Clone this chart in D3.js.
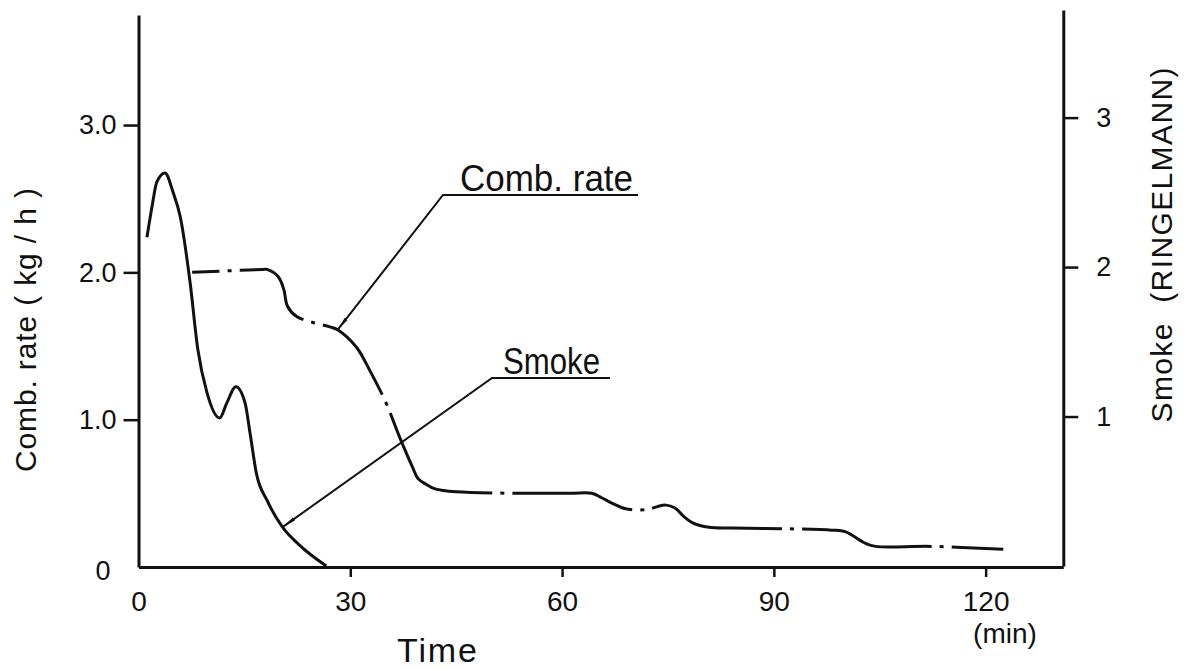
<!DOCTYPE html>
<html>
<head>
<meta charset="utf-8">
<script src="https://cdn.jsdelivr.net/npm/d3@7"></script>
<style>
  body { margin: 0; background: #fff; }
  text { font-family: "Liberation Sans", Arial, sans-serif; fill: #111; }
</style>
</head>
<body>
<svg id="chart" width="1192" height="670"></svg>
<script>
// values
var combTime = [7.6, 17.6, 18.2, 19.8, 20.6, 21.1, 22.4, 24.7, 27.1, 28.2, 30.9, 32.7, 35.1, 37.0, 38.8, 39.6, 40.8, 42.0, 45.0, 61.0, 64.2, 65.6, 67.2, 69.0, 72.0, 73.5, 74.7, 76.0, 77.3, 78.5, 80.8, 84.0, 91.1, 98.2, 100.1, 103.0, 104.4, 112.3, 122.5];
var combRate = [2.00, 2.02, 2.02, 1.97, 1.88, 1.77, 1.70, 1.66, 1.63, 1.61, 1.49, 1.34, 1.11, 0.88, 0.68, 0.60, 0.56, 0.53, 0.51, 0.50, 0.50, 0.47, 0.43, 0.395, 0.39, 0.41, 0.42, 0.40, 0.34, 0.30, 0.27, 0.265, 0.26, 0.25, 0.24, 0.16, 0.14, 0.14, 0.12];

var smokeTime = [1.2, 1.9, 2.6, 3.75, 4.9, 5.9, 7.3, 8.4, 9.7, 11.5, 12.5, 13.8, 15.1, 15.8, 16.7, 18.2, 20.4, 22.8, 26.6];
var smokeValue = [2.20, 2.40, 2.57, 2.63, 2.50, 2.34, 1.90, 1.45, 1.16, 0.99, 1.09, 1.20, 1.09, 0.89, 0.62, 0.44, 0.26, 0.14, 0];

var timeTicks = [0, 30, 60, 90, 120];
var combTicks = [0, 1, 2, 3];
var smokeTicks = [1, 2, 3];

// where the dash-dot line of comb. rate is broken (minutes)
var combGapTimes = [12.9, 24.7, 35.1, 51.5, 71.3, 92.5, 113.7];

var svg = d3.select('#chart');

var x = d3.scaleLinear().domain([0, 131]).range([138.5, 1063.3]);
var yL = d3.scaleLinear().domain([0, 3.747]).range([567, 15]);
var yR = d3.scaleLinear().domain([0, 3.72]).range([566, 10]);

var ink = '#111';

// axes
var gx = svg.append('g')
  .attr('transform', 'translate(0,567)')
  .call(d3.axisBottom(x).tickValues(timeTicks).tickSize(10).tickSizeOuter(0).tickPadding(14));
var gl = svg.append('g')
  .attr('transform', 'translate(138.5,0)')
  .call(d3.axisLeft(yL).tickValues(combTicks).tickSize(15).tickSizeOuter(0).tickPadding(7)
    .tickFormat(function (d) { return d === 0 ? '0' : d.toFixed(1); }));
var gr = svg.append('g')
  .attr('transform', 'translate(1063.3,0)')
  .call(d3.axisRight(yR).tickValues(smokeTicks).tickSize(15).tickSizeOuter(0).tickPadding(18)
    .tickFormat(d3.format('d')));

[gx, gl, gr].forEach(function (g) {
  g.select('.domain').attr('stroke', ink).attr('stroke-width', 3);
  g.selectAll('.tick line').attr('stroke', ink).attr('stroke-width', 2.5);
  g.selectAll('.tick text').attr('fill', ink).style('font-family', '"Liberation Sans", Arial, sans-serif');
  g.selectAll('.tick').filter(function (d) { return d === 0; }).select('line').remove();
});
gx.selectAll('.tick text').style('font-size', '28px');
gl.selectAll('.tick text').style('font-size', '27px');
gl.selectAll('.tick').filter(function (d) { return d === 0; }).select('text').attr('x', -28).attr('dy', '0.45em');
gr.selectAll('.tick text').style('font-size', '27px');

// axis titles
svg.append('text')
  .attr('transform', 'translate(36,330) rotate(-90)')
  .attr('text-anchor', 'middle')
  .attr('textLength', 284)
  .attr('lengthAdjust', 'spacing')
  .style('font-size', '30px')
  .text('Comb. rate ( kg / h )');
svg.append('text')
  .attr('transform', 'translate(1172,245) rotate(-90)')
  .attr('text-anchor', 'middle')
  .attr('textLength', 355)
  .attr('lengthAdjust', 'spacing')
  .style('font-size', '30px')
  .text('Smoke\u00a0\u00a0(RINGELMANN)');
svg.append('text')
  .attr('x', 437).attr('y', 662)
  .attr('text-anchor', 'middle')
  .attr('textLength', 80)
  .attr('lengthAdjust', 'spacing')
  .style('font-size', '34px')
  .text('Time');
svg.append('text')
  .attr('x', 1005).attr('y', 643)
  .attr('text-anchor', 'middle')
  .style('font-size', '28px')
  .text('(min)');

// curves
var combLine = d3.line()
  .x(function (d, i) { return x(combTime[i]); })
  .y(function (d) { return yL(d); })
  .curve(d3.curveCatmullRom.alpha(0.5));
var smokeLine = d3.line()
  .x(function (d, i) { return x(smokeTime[i]); })
  .y(function (d) { return yR(d); })
  .curve(d3.curveMonotoneX);

svg.append('path')
  .attr('d', smokeLine(smokeValue))
  .attr('fill', 'none')
  .attr('stroke', ink)
  .attr('stroke-width', 3);

var combPath = svg.append('path')
  .attr('d', combLine(combRate))
  .attr('fill', 'none')
  .attr('stroke', ink)
  .attr('stroke-width', 3);

// dash-dot breaks placed along the drawn path
var node = combPath.node();
var total = node.getTotalLength();
var lengthAtX = function (px) {
  var lo = 0, hi = total;
  for (var i = 0; i < 40; i++) {
    var mid = (lo + hi) / 2;
    if (node.getPointAtLength(mid).x < px) lo = mid; else hi = mid;
  }
  return lo;
};
var dash = [], prev = 0;
combGapTimes.forEach(function (t) {
  var L = lengthAtX(x(t));
  dash.push(Math.max(0, L - 10 - prev), 8, 4, 8);
  prev = L + 10;
});
dash.push(total - prev + 20, 2000);
combPath.attr('stroke-dasharray', dash.join(','));

// leader lines with labels
svg.append('defs').append('marker')
  .attr('id', 'barb')
  .attr('viewBox', '0 0 14 6')
  .attr('refX', 0).attr('refY', 3)
  .attr('markerWidth', 14).attr('markerHeight', 6)
  .attr('markerUnits', 'userSpaceOnUse')
  .attr('orient', 'auto')
  .append('path')
  .attr('d', 'M0,3 L14,1.2 L14,4.8 Z')
  .attr('fill', ink);

var leaders = [
  { label: 'Comb. rate', anchor: [x(28.2), yL(1.61)], elbow: [443, 195], end: 638, textX: 460, textLen: 173 },
  { label: 'Smoke', anchor: [x(20.4), yR(0.26)], elbow: [492, 378], end: 610, textX: 503, textLen: 97 }
];
leaders.forEach(function (l) {
  svg.append('path')
    .attr('d', 'M' + l.anchor[0] + ',' + l.anchor[1] + 'L' + l.elbow[0] + ',' + l.elbow[1] + 'L' + l.end + ',' + l.elbow[1])
    .attr('fill', 'none')
    .attr('stroke', ink)
    .attr('stroke-width', 2)
    .attr('marker-start', 'url(#barb)');
  svg.append('text')
    .attr('x', l.textX).attr('y', l.elbow[1] - 4)
    .attr('textLength', l.textLen)
    .attr('lengthAdjust', 'spacingAndGlyphs')
    .style('font-size', '37px')
    .text(l.label);
});
</script>
</body>
</html>
